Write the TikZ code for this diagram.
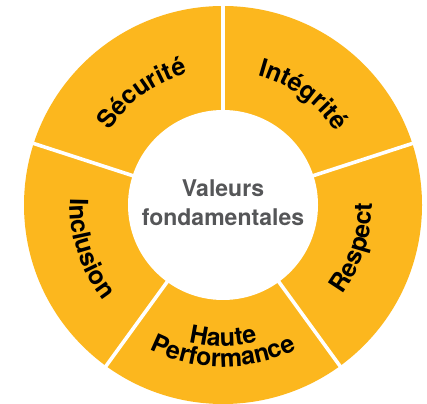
\documentclass[tikz,border=0pt]{standalone}
\usepackage{fontspec}
\setmainfont{TeX Gyre Heros}
\usetikzlibrary{decorations.text}
\definecolor{ringyellow}{RGB}{252,183,30}
\definecolor{centergray}{RGB}{85,86,88}
\newcommand\seglabelfont{\bfseries\fontsize{25}{25}\selectfont}
\newcommand\ringlabel[4]{%
  \path[font=\seglabelfont, decorate, decoration={text along path, text align=center,
        text={|\seglabelfont|#4}}]
    (C) ++(#1:#3) arc[start angle=#1, end angle=#2, radius=#3];}
\begin{document}
\begin{tikzpicture}[x=1pt,y=1pt,
  ring/.style={fill=ringyellow},
  gap/.style={draw=white, line width=3.6pt},
  hub/.style={fill=white},
  centertext/.style={text=centergray, font=\bfseries\fontsize{23}{23}\selectfont, inner sep=0pt}]
  \fill[white] (0,0) rectangle (427,403);
  \useasboundingbox (0,0) rectangle (427,403);
  \coordinate (C) at (223,198);
  % ring
  \fill[ring] (C) circle[radius=199];
  \foreach \a in {18,90,162,234,306}
    \draw[gap] (C) -- ++(\a:205);
  \fill[hub] (C) circle[radius=95];
  % labels
  \ringlabel{162}{90}{136}{Sécurité}
  \ringlabel{90}{18}{134}{Intégrité}
  \ringlabel{-54}{18}{149}{Respect}
  \ringlabel{162}{234}{153}{Inclusion}
  \ringlabel{234}{306}{141}{Haute}
  \ringlabel{234}{306}{162}{Performance}
  % centre
  \node[centertext, anchor=base] (v1) at (223,206) {Valeurs};
  \node[centertext, anchor=base] (v2) at (223,177) {fondamentales};
\end{tikzpicture}
\end{document}
